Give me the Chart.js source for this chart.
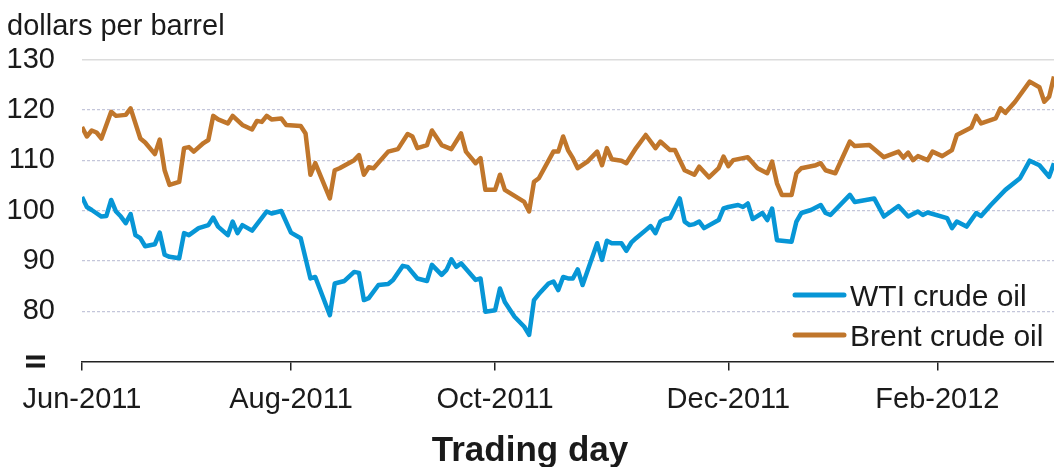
<!DOCTYPE html>
<html><head><meta charset="utf-8">
<script src="https://cdn.jsdelivr.net/npm/chart.js@4.4.0/dist/chart.umd.min.js"></script>
<style>html,body{margin:0;padding:0;background:#fff;} #wrap{width:1054px;height:467px;position:relative;}</style>
</head><body><div id="wrap"><canvas id="c" width="1054" height="467"></canvas></div>
<script>
// Trading-day index (0 = first trading day of Jun-2011)
const tickDays = [0, 43, 85, 133, 176];
const tickLabels = ['Jun-2011', 'Aug-2011', 'Oct-2011', 'Dec-2011', 'Feb-2012'];
const yTicks = [70, 80, 90, 100, 110, 120, 130];
const seriesNames = ['WTI crude oil', 'Brent crude oil'];

const wtiDays = [0,1,2,4,5,6,7,8,9,10,11,12,13,15,16,17,18,20,21,22,24,26,27,28,30,31,32,33,35,38,39,41,43,45,47,48,51,52,54,56,57,58,59,61,63,64,66,67,69,71,72,74,75,76,77,78,81,82,83,85,86,87,89,91,92,93,94,96,97,98,99,100,101,102,103,106,107,108,109,111,112,113,114,116,117,118,119,120,121,123,124,125,126,127,128,131,132,133,135,136,137,138,140,141,142,143,146,147,148,150,152,153,154,158,159,163,165,168,170,172,173,174,178,179,180,182,184,185,187,190,193,195,197,199,200];
const wtiPrices = [102.7,100.7,100.1,98.8,98.9,102.1,99.8,98.8,97.5,99.3,95.1,94.5,92.9,93.3,95.6,91.2,90.8,90.5,95.5,95.1,96.5,97.1,98.6,96.8,95.1,97.8,95.5,97.1,96.0,99.8,99.4,99.9,95.6,94.5,86.5,86.8,79.2,85.5,86.0,87.8,87.6,82.2,82.6,85.2,85.4,86.2,89.0,88.8,86.5,86.0,89.2,87.2,88.2,90.3,88.8,89.5,86.2,86.5,79.9,80.2,84.5,81.8,78.9,76.9,75.3,82.2,83.4,85.5,85.9,84.2,86.8,86.5,86.5,88.3,85.2,93.5,90.2,94.0,93.5,93.5,92.0,93.6,94.5,96.1,96.9,95.5,97.8,98.3,98.5,102.4,97.8,97.1,97.3,97.8,96.5,98.1,100.4,100.7,101.1,100.7,101.4,98.3,99.5,98.1,100.4,94.1,93.8,97.8,99.5,100.1,101.1,99.5,99.1,103.1,101.7,102.4,98.8,100.9,98.8,99.8,99.1,99.6,98.5,96.5,97.8,96.8,99.5,98.9,101.1,104.1,106.4,109.9,109.0,106.7,109.4];

const brentDays = [0,1,2,3,4,6,7,9,10,12,13,15,16,17,18,20,21,22,23,25,26,27,28,30,31,33,35,36,37,38,39,41,42,45,46,47,48,51,52,53,56,57,58,59,60,63,65,67,68,69,71,72,74,76,78,79,81,82,83,85,86,87,89,91,92,93,94,97,98,99,100,101,102,104,106,107,108,109,111,112,114,116,118,119,121,122,124,126,127,129,131,132,133,134,137,139,141,142,143,144,146,147,148,151,152,153,155,158,159,162,165,168,169,170,171,172,174,175,177,179,180,183,184,185,188,189,190,192,195,197,198,199,200];
const brentPrices = [116.6,114.7,115.9,115.5,114.3,119.6,118.8,119.0,120.3,114.3,113.5,111.2,114.1,108.0,105.1,105.7,112.4,112.6,111.7,113.4,114.0,118.8,118.1,117.3,118.8,117.0,116.1,117.8,117.6,118.8,118.1,118.3,117.0,116.8,115.3,107.1,109.4,102.4,108.0,108.4,110.0,111.0,107.1,108.6,108.4,111.7,112.2,115.2,114.7,112.4,113.0,115.9,113.0,112.2,115.3,111.7,109.4,110.4,104.1,104.1,107.1,104.1,102.9,101.7,99.8,105.7,106.4,111.7,111.7,114.7,112.0,110.4,108.4,109.7,111.7,109.0,112.4,110.2,109.9,109.4,112.4,115.0,112.4,113.7,112.0,112.0,108.0,107.1,108.7,106.6,108.4,110.7,108.8,110.0,110.6,108.4,107.4,109.7,105.4,103.1,103.1,107.4,108.4,109.0,109.4,108.0,107.4,113.7,112.8,113.0,110.6,111.7,110.5,111.5,110.0,110.8,110.0,111.7,110.8,112.0,115.0,116.5,118.8,117.3,118.3,120.3,119.4,121.6,125.6,124.5,121.6,122.6,126.6];

const WTI_COLOR = '#0796d6';
const BRENT_COLOR = '#c0762b';
const FONT = '"Liberation Sans", Arial, sans-serif';
const TEXT = '#1a1a1a';

const decor = {
  id: 'decor',
  afterDraw(chart) {
    const {ctx, scales: {y}} = chart;
    ctx.save();
    ctx.fillStyle = TEXT;
    ctx.textBaseline = 'alphabetic';
    ctx.textAlign = 'left';
    ctx.font = '29px ' + FONT;
    ctx.fillText('dollars per barrel', 7, 35);
    // axis break mark
    const yb = y.getPixelForValue(70);
    ctx.fillRect(26, yb - 6, 19, 4);
    ctx.fillRect(26, yb + 2, 19, 4);
    // x axis title
    ctx.font = 'bold 35px ' + FONT;
    ctx.textAlign = 'center';
    ctx.fillText('Trading day', 530, 461);
    // legend
    ctx.textAlign = 'left';
    ctx.font = '30px ' + FONT;
    chart.data.datasets.forEach((ds, i) => {
      const ly = 295 + 40 * i;
      ctx.strokeStyle = ds.borderColor;
      ctx.lineWidth = 5;
      ctx.lineCap = 'round';
      ctx.beginPath();
      ctx.moveTo(795, ly);
      ctx.lineTo(844, ly);
      ctx.stroke();
      ctx.fillStyle = TEXT;
      ctx.fillText(ds.label, 850, ly + 11);
    });
    ctx.restore();
  }
};

new Chart(document.getElementById('c'), {
  type: 'line',
  data: {
    datasets: [
      {
        label: seriesNames[0],
        data: wtiDays.map((d, i) => ({x: d, y: wtiPrices[i]})),
        borderColor: WTI_COLOR,
        borderWidth: 4.5,
        pointRadius: 0,
        tension: 0,
        borderJoinStyle: 'round'
      },
      {
        label: seriesNames[1],
        data: brentDays.map((d, i) => ({x: d, y: brentPrices[i]})),
        borderColor: BRENT_COLOR,
        borderWidth: 4.5,
        pointRadius: 0,
        tension: 0,
        borderJoinStyle: 'round'
      }
    ]
  },
  options: {
    responsive: false,
    animation: false,
    devicePixelRatio: 1,
    layout: {padding: {top: 59.5, left: 0, right: 0, bottom: 0}},
    plugins: {legend: {display: false}, tooltip: {enabled: false}, title: {display: false}},
    scales: {
      x: {
        type: 'linear',
        min: 0,
        max: 200,
        afterBuildTicks: s => { s.ticks = tickDays.map(v => ({value: v})); },
        afterFit: s => { s.height = 105.5; },
        ticks: {
          callback: (v, i) => tickLabels[i],
          font: {family: FONT, size: 29},
          color: TEXT,
          padding: 12,
          maxRotation: 0,
          autoSkip: false
        },
        grid: {display: true, drawOnChartArea: false, drawTicks: true, tickLength: 9, color: '#222', lineWidth: 1.5},
        border: {display: true, color: '#222', width: 1.5}
      },
      y: {
        type: 'linear',
        min: 70,
        max: 130,
        afterBuildTicks: s => { s.ticks = yTicks.map(v => ({value: v})); },
        afterFit: s => { s.width = 82; },
        ticks: {
          callback: v => (v === 70 ? '' : String(v)),
          font: {family: FONT, size: 29},
          color: TEXT,
          padding: 27
        },
        grid: {
          drawTicks: false,
          color: c => (c.tick && c.tick.value === 130 ? '#dcdcdc' : (c.tick && c.tick.value === 70 ? 'rgba(0,0,0,0)' : '#c4c6da')),
          lineWidth: c => (c.tick && c.tick.value === 130 ? 1.5 : 1.2)
        },
        border: {display: false, dash: c => (c.tick && c.tick.value === 130 ? [] : [3, 2])}
      }
    }
  },
  plugins: [decor]
});
</script>
</body></html>
